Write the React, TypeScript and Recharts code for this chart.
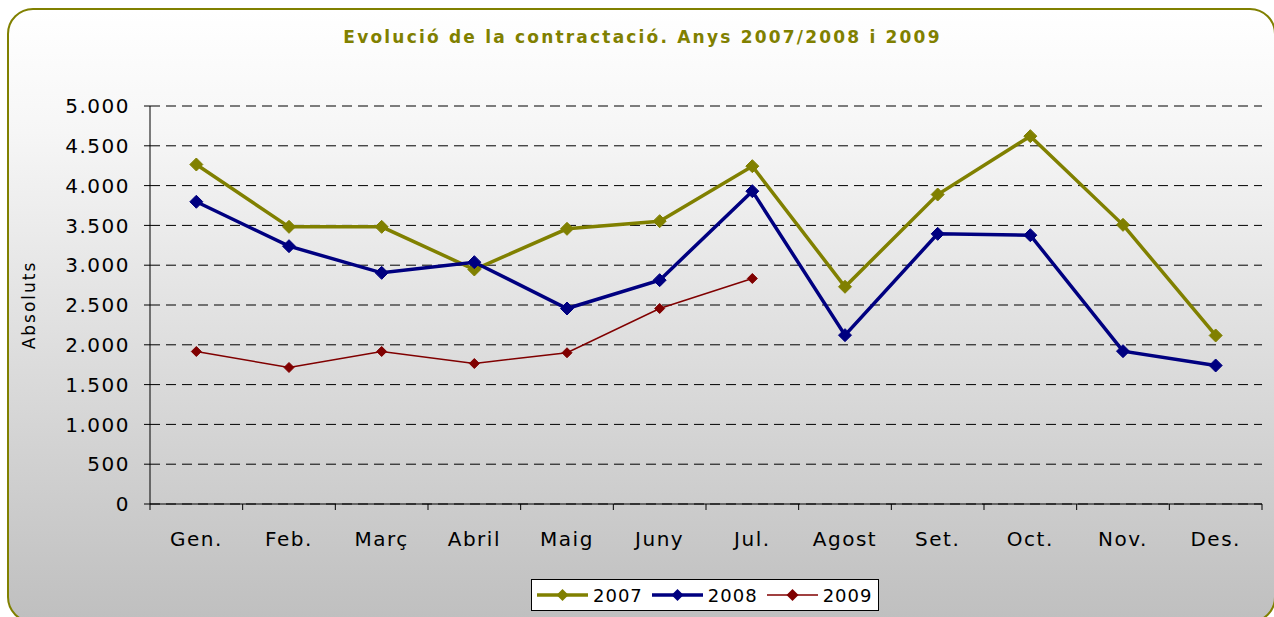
import { LineChart, Line, XAxis, YAxis, CartesianGrid, Legend } from 'recharts'

const months = ['Gen.', 'Feb.', 'Març', 'Abril', 'Maig', 'Juny', 'Jul.', 'Agost', 'Set.', 'Oct.', 'Nov.', 'Des.']
const values2007 = [4265, 3482, 3482, 2946, 3457, 3553, 4244, 2729, 3888, 4621, 3507, 2117]
const values2008 = [3797, 3239, 2904, 3038, 2456, 2812, 3930, 2121, 3394, 3377, 1920, 1740]
const values2009 = [1916, 1715, 1916, 1765, 1900, 2456, 2833, null, null, null, null, null]
const yTicks = [0, 500, 1000, 1500, 2000, 2500, 3000, 3500, 4000, 4500, 5000]

const series = [
  { key: 'y2007', name: '2007', color: '#808000', width: 3.5, size: 6.5 },
  { key: 'y2008', name: '2008', color: '#000080', width: 3.5, size: 6.5 },
  { key: 'y2009', name: '2009', color: '#800000', width: 1.5, size: 5 },
]

const data = months.map((m, i) => ({
  month: m,
  y2007: values2007[i],
  y2008: values2008[i],
  y2009: values2009[i],
}))

const W = 1274
const H = 617
const LEFT = 150
const RIGHT = 12
const BAND = (W - LEFT - RIGHT) / months.length
const FONT = 'Verdana, "DejaVu Sans", sans-serif'

const fmt = (v: number) => v.toString().replace(/\B(?=(\d{3})+(?!\d))/g, '.')

const Diamond = (size: number, color: string) => (props: any) => {
  const { cx, cy, index } = props
  if (cx == null || cy == null || props.value == null) return <g key={index} />
  return (
    <polygon
      key={index}
      points={`${cx},${cy - size} ${cx + size},${cy} ${cx},${cy + size} ${cx - size},${cy}`}
      fill={color}
      stroke={color}
      strokeWidth={1}
    />
  )
}

const MonthTick = (props: any) => {
  const { x, y, payload, index } = props
  return (
    <g>
      <line x1={x - BAND / 2} y1={y} x2={x - BAND / 2} y2={y + 6} stroke="#000" />
      {index === months.length - 1 && (
        <line x1={x + BAND / 2} y1={y} x2={x + BAND / 2} y2={y + 6} stroke="#000" />
      )}
      <text x={x} y={y + 42} textAnchor="middle" fontSize={20} letterSpacing={1.5} fill="#000" fontFamily={FONT}>
        {payload.value}
      </text>
    </g>
  )
}

const LegendBox = () => (
  <div
    style={{
      width: 348,
      height: 32,
      boxSizing: 'border-box',
      border: '1px solid #000',
      background: '#fff',
      display: 'flex',
      alignItems: 'center',
      paddingLeft: 5,
      fontFamily: FONT,
      fontSize: 18,
      letterSpacing: 1,
      whiteSpace: 'nowrap',
    }}
  >
    {series.map((s) => (
      <div key={s.key} style={{ display: 'flex', alignItems: 'center', marginRight: 9 }}>
        <svg width={51} height={14}>
          <line x1={0} y1={7} x2={51} y2={7} stroke={s.color} strokeWidth={s.width} />
          <polygon points="25.5,1 31.5,7 25.5,13 19.5,7" fill={s.color} />
        </svg>
        <span style={{ marginLeft: 5 }}>{s.name}</span>
      </div>
    ))}
  </div>
)

export default function App() {
  return (
    <div style={{ position: 'absolute', left: 0, top: 0, width: W, height: H, overflow: 'hidden', background: '#fff' }}>
      <div
        style={{
          position: 'absolute',
          left: 7,
          top: 8,
          width: 1265,
          height: 611,
          border: '2.5px solid #808000',
          borderRadius: 26,
          background: 'linear-gradient(to bottom, #ffffff 0%, #f6f6f6 20%, #bfbfbf 100%)',
        }}
      />
      <div
        style={{
          position: 'absolute',
          left: 0,
          top: 27,
          width: 1285,
          textAlign: 'center',
          fontFamily: FONT,
          fontWeight: 'bold',
          fontSize: 17,
          letterSpacing: 2.2,
          color: '#808000',
        }}
      >
        Evolució de la contractació. Anys 2007/2008 i 2009
      </div>
      <div style={{ position: 'absolute', left: 0, top: 0 }}>
        <LineChart width={W} height={H} data={data} margin={{ top: 106, right: RIGHT, bottom: 6, left: 0 }}>
          <CartesianGrid vertical={false} stroke="#000" strokeDasharray="10 6" />
          <XAxis
            dataKey="month"
            height={75}
            padding={{ left: BAND / 2, right: BAND / 2 }}
            axisLine={{ stroke: '#000' }}
            tickLine={false}
            tickSize={0}
            tickMargin={0}
            tick={<MonthTick />}
            interval={0}
          />
          <YAxis
            width={LEFT}
            domain={[0, 5000]}
            ticks={yTicks}
            tickFormatter={fmt}
            axisLine={{ stroke: '#000' }}
            tickLine={{ stroke: '#000' }}
            tickSize={6}
            tickMargin={14}
            tick={{ fontSize: 20, fill: '#000', fontFamily: FONT, letterSpacing: 1.5 }}
            label={{
              content: (p: any) => {
                const vb = p.viewBox || { y: 106, height: 398 }
                const cy = vb.y + vb.height / 2
                return (
                  <text
                    x={35}
                    y={cy}
                    transform={`rotate(-90 35 ${cy})`}
                    textAnchor="middle"
                    fontSize={17}
                    letterSpacing={2}
                    fontFamily={FONT}
                    fill="#000"
                  >
                    Absoluts
                  </text>
                )
              },
            }}
          />
          <Legend
            verticalAlign="bottom"
            content={<LegendBox />}
            wrapperStyle={{ left: 531, width: 348, height: 32 }}
          />
          {series.map((s) => (
            <Line
              key={s.key}
              type="linear"
              dataKey={s.key}
              name={s.name}
              stroke={s.color}
              strokeWidth={s.width}
              dot={Diamond(s.size, s.color)}
              activeDot={false}
              isAnimationActive={false}
            />
          ))}
        </LineChart>
      </div>
    </div>
  )
}
